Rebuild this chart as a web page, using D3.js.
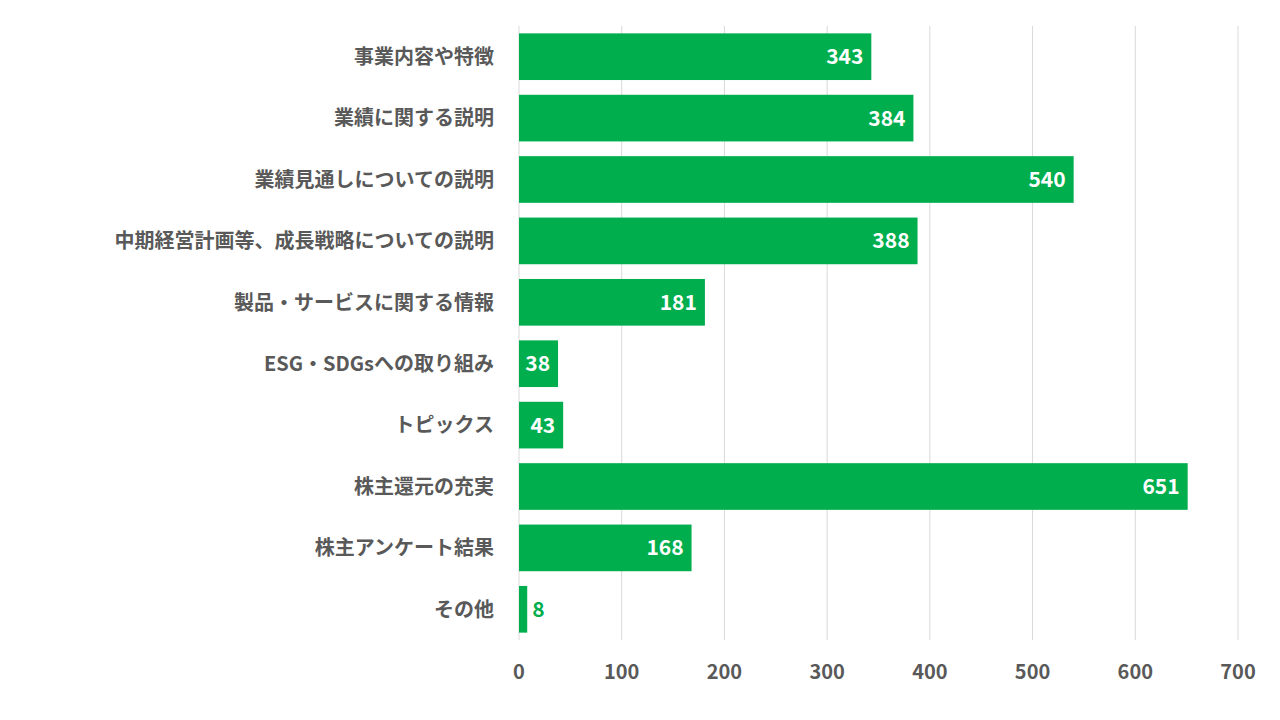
<!DOCTYPE html>
<html><head><meta charset="utf-8">
<script src="https://cdn.jsdelivr.net/npm/d3@7"></script>
<style>body{margin:0;background:#fff}</style></head>
<body><svg id="c" width="1280" height="720"></svg>
<script>
const categories=["事業内容や特徴","業績に関する説明","業績見通しについての説明","中期経営計画等、成長戦略についての説明","製品・サービスに関する情報","ESG・SDGsへの取り組み","トピックス","株主還元の充実","株主アンケート結果","その他"];
const values=[343,384,540,388,181,38,43,651,168,8];
const ticks=[0,100,200,300,400,500,600,700];
const svg=d3.select("#c");
const font="'Noto Sans CJK JP','Noto Sans',sans-serif";
const x=d3.scaleLinear().domain([0,700]).range([519,1238]);
const y=d3.scaleBand().domain(categories).range([26,640]).paddingInner(0.24).paddingOuter(0.12);
svg.append("g").selectAll("line").data(ticks).join("line")
 .attr("x1",d=>x(d)).attr("x2",d=>x(d)).attr("y1",26).attr("y2",640)
 .attr("stroke","#d9d9d9").attr("stroke-width",1);
svg.append("g").selectAll("rect").data(values).join("rect")
 .attr("x",x(0)).attr("y",(d,i)=>y(categories[i])).attr("width",d=>x(d)-x(0)).attr("height",y.bandwidth()).attr("fill","#00AE4E");
svg.append("g").selectAll("text").data(values).join("text")
 .attr("x",d=>d<20?x(d)+5:x(d)-8).attr("y",(d,i)=>y(categories[i])+y.bandwidth()/2)
 .attr("dy","0.36em").attr("text-anchor",d=>d<20?"start":"end")
 .attr("fill",d=>d<20?"#00AE4E":"#fff").attr("font-family",font).attr("font-weight","bold").attr("font-size",21)
 .text(d=>d);
svg.append("g").selectAll("text").data(categories).join("text")
 .attr("x",494).attr("y",d=>y(d)+y.bandwidth()/2).attr("dy","0.36em").attr("text-anchor","end")
 .attr("fill","#595959").attr("font-family",font).attr("font-weight","bold").attr("font-size",20).text(d=>d);
svg.append("g").selectAll("text").data(ticks).join("text")
 .attr("x",d=>x(d)).attr("y",672).attr("dy","0.36em").attr("text-anchor","middle")
 .attr("fill","#595959").attr("font-family",font).attr("font-weight","bold").attr("font-size",20).text(d=>d);
</script></body></html>
